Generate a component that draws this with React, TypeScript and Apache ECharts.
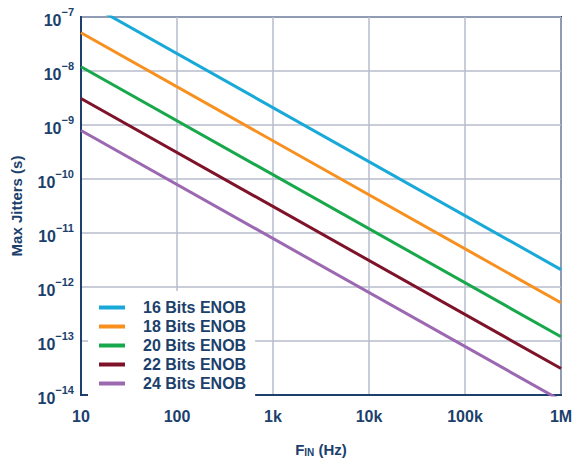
import React, { useEffect, useRef } from "react";
import * as echarts from "echarts";

// Input frequency (Hz) at the two ends of each line
const freqs = [10, 1e6];

// Maximum allowable aperture jitter (s) for each ENOB level
const seriesNames = ["16 Bits ENOB", "18 Bits ENOB", "20 Bits ENOB", "22 Bits ENOB", "24 Bits ENOB"];
const jitter16 = [2.1e-7, 2.1e-12];
const jitter18 = [5.1e-8, 5.1e-13];
const jitter20 = [1.2e-8, 1.2e-13];
const jitter22 = [3.1e-9, 3.1e-14];
const jitter24 = [7.9e-10, 7.9e-15];
const seriesValues = [jitter16, jitter18, jitter20, jitter22, jitter24];
const seriesColors = ["#19a9d8", "#f7901e", "#17a84b", "#7e1228", "#9b68b1"];

// Decade tick labels for the frequency axis
const xTickLabels: Record<number, string> = {
  1: "10",
  2: "100",
  3: "1k",
  4: "10k",
  5: "100k",
  6: "1M",
};

const NAVY = "#1c3f6c";
const GRIDC = "#b7bbcd";
const FONT = "'Liberation Sans', Arial, Helvetica, sans-serif";

export default function App() {
  const ref = useRef<HTMLDivElement>(null);

  useEffect(() => {
    if (!ref.current) return;
    const chart = echarts.init(ref.current, null, { renderer: "svg" });

    const series = seriesNames.map((name, i) => ({
      name,
      type: "line",
      symbol: "none",
      clip: true,
      lineStyle: { width: 3, color: seriesColors[i] },
      itemStyle: { color: seriesColors[i] },
      data: freqs.map((f, j) => [f, seriesValues[i][j]]),
    }));

    chart.setOption({
      animation: false,
      textStyle: { fontFamily: FONT },
      grid: {
        left: 81,
        right: 20,
        top: 17,
        bottom: 61,
        show: true,
        borderColor: NAVY,
        borderWidth: 2,
        backgroundColor: "#fff",
      },
      legend: {
        left: 88,
        top: 291,
        orient: "vertical",
        icon: "rect",
        itemWidth: 26,
        itemHeight: 4,
        itemGap: 0,
        padding: [7, 9, 5, 11],
        backgroundColor: "#fff",
        textStyle: {
          color: NAVY,
          fontFamily: FONT,
          fontWeight: "bold",
          fontSize: 16,
          lineHeight: 19,
          padding: [0, 0, 0, 13],
        },
        data: seriesNames,
      },
      xAxis: {
        type: "log",
        logBase: 10,
        min: 10,
        max: 1e6,
        interval: 1,
        name: "{b|F}{sub|IN}{b| (Hz)}",
        nameLocation: "middle",
        nameGap: 44,
        nameTextStyle: {
          rich: {
            b: { fontFamily: FONT, fontWeight: "bold", fontSize: 15, color: NAVY, verticalAlign: "bottom", lineHeight: 18 },
            sub: { fontFamily: FONT, fontWeight: "bold", fontSize: 10, color: NAVY, verticalAlign: "bottom", lineHeight: 15 },
          },
        },
        axisLine: { show: true, lineStyle: { color: NAVY, width: 2 } },
        axisTick: { show: false },
        splitLine: { show: true, lineStyle: { color: GRIDC, width: 1.5 } },
        axisLabel: {
          color: NAVY,
          fontFamily: FONT,
          fontWeight: "bold",
          fontSize: 16,
          margin: 13,
          formatter: (v: number) => xTickLabels[Math.round(Math.log10(v))] ?? "",
        },
      },
      yAxis: {
        type: "log",
        logBase: 10,
        min: 1e-14,
        max: 1e-7,
        interval: 1,
        name: "Max Jitters (s)",
        nameLocation: "middle",
        nameGap: 57,
        nameRotate: 90,
        nameTextStyle: {
          color: NAVY,
          fontFamily: FONT,
          fontWeight: "bold",
          fontSize: 15,
        },
        axisLine: { show: true, lineStyle: { color: NAVY, width: 2 } },
        axisTick: { show: false },
        splitLine: { show: true, lineStyle: { color: GRIDC, width: 1.5 } },
        axisLabel: {
          margin: 7,
          formatter: (v: number) => `{b|10}{s|\u2212${-Math.round(Math.log10(v))}}`,
          rich: {
            b: { fontFamily: FONT, fontWeight: "bold", fontSize: 16, color: NAVY, lineHeight: 18, verticalAlign: "bottom" },
            s: { fontFamily: FONT, fontWeight: "bold", fontSize: 11, color: NAVY, lineHeight: 22, verticalAlign: "top" },
          },
        },
      },
      series,
    });

    return () => chart.dispose();
  }, []);

  return (
    <div
      ref={ref}
      style={{ position: "absolute", left: 0, top: 0, width: 581, height: 462, background: "#fff" }}
    />
  );
}
